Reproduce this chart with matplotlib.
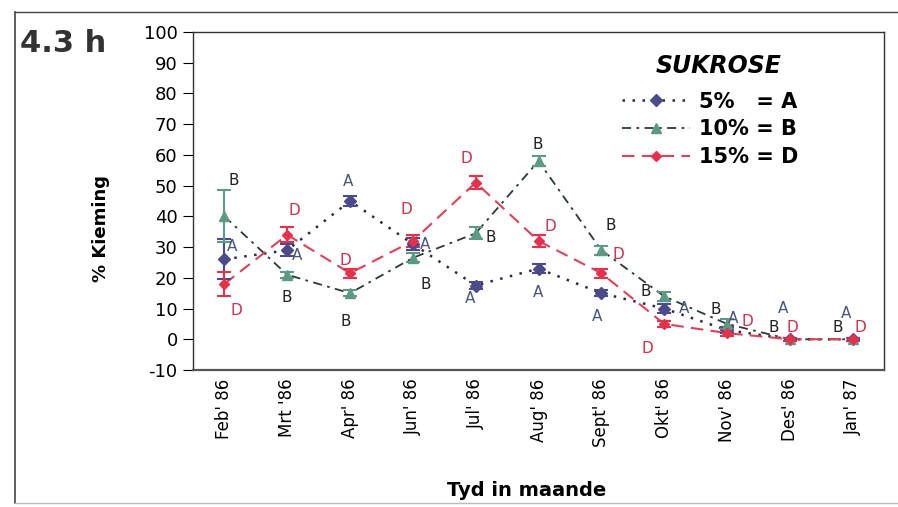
import matplotlib
matplotlib.use("Agg")
import matplotlib.pyplot as plt
from matplotlib.lines import Line2D

plt.rcParams['font.family'] = ['DejaVu Sans']
plt.rcParams['axes.unicode_minus'] = False

months = ["Feb' 86", "Mrt '86", "Apr' 86", "Jun' 86", "Jul' 86", "Aug' 86",
          "Sept' 86", "Okt' 86", "Nov' 86", "Des' 86", "Jan' 87"]

a_vals = [26, 29, 45, 31, 17.5, 23, 15, 10, 3, 0, 0]
a_err = [6.5, 2, 1.5, 2, 1, 1.5, 1, 1.5, 1, 0.5, 0.5]
b_vals = [40, 21, 15, 26.5, 34.5, 58, 29, 14, 5, 0, 0]
b_err = [8.5, 1, 1, 1.5, 2, 1.5, 1.5, 1.5, 1.5, 0.5, 0.5]
d_vals = [18, 34, 21.5, 32, 51, 32, 21.5, 5, 2, 0, 0]
d_err = [4, 2.5, 1.5, 2, 2, 2, 1.5, 1, 1, 0.5, 0.5]

series_names = ["5%   = A", "10% = B", "15% = D"]
series_letters = ["A", "B", "D"]

# label offsets in pixels (style)
a_off = [(8, 13), (10, -5), (-2, 20), (12, 0), (-6, -13), (0, -24), (-4, -23),
         (20, 0), (6, 12), (-7, 31), (-7, 26)]
b_off = [(9, 36), (0, -23), (-4, -28), (13, -27), (15, -4), (-1, 17), (9, 25),
         (-18, 5), (-11, 14), (-16, 12), (-15, 12)]
d_off = [(12, -27), (7, 24), (-5, 13), (-6, 31), (-9, 24), (12, 14), (17, 19),
         (-17, -25), (20, 12), (3, 12), (8, 12)]

fig = plt.figure(figsize=(8.98, 5.07), dpi=100)
ax = fig.add_axes([193/898, 1-370/507, (884-193)/898, (370-32)/507])

x = list(range(len(months)))

styles = [
    dict(vals=a_vals, err=a_err, marker='D', ms=6, mcol='#4b4b8c', lcol='#2b2b45',
         ls=(0, (1, 3)), lw=1.8, tcol='#4a5878', off=a_off, letter='A'),
    dict(vals=b_vals, err=b_err, marker='^', ms=7, mcol='#5c9a86', lcol='#2a3a36',
         ls=(0, (5, 3, 1.5, 3)), lw=1.3, tcol='#222222', off=b_off, letter='B'),
    dict(vals=d_vals, err=d_err, marker='D', ms=5, mcol='#e8304a', lcol='#e0405a',
         ls=(0, (6, 3.5)), lw=1.5, tcol='#d0304a', off=d_off, letter='D'),
]

handles = []
for s, name in zip(styles, series_names):
    ax.plot(x, s['vals'], color=s['lcol'], ls=s['ls'], lw=s['lw'], zorder=2)
    ax.errorbar(x, s['vals'], yerr=s['err'], fmt=s['marker'], ms=s['ms'],
                color=s['mcol'], ecolor=s['mcol'], elinewidth=1.5, capsize=5,
                capthick=1.5, zorder=3)
    for xi, yi, off in zip(x, s['vals'], s['off']):
        ax.annotate(s['letter'], (xi, yi), xytext=off, textcoords='offset pixels',
                    ha='center', va='center', fontsize=11, color=s['tcol'], zorder=4)
    handles.append(Line2D([0], [0], color=s['lcol'], ls=s['ls'], lw=s['lw'],
                          marker=s['marker'], ms=s['ms'], mfc=s['mcol'], mec=s['mcol']))

ax.set_xlim(-0.5, len(months) - 0.5)
ax.set_ylim(-10, 100)
ax.set_yticks(range(-10, 101, 10))
ax.tick_params(axis='y', direction='out', length=7, labelsize=13, pad=4)
ax.set_xticks(x)
ax.set_xticklabels(months, rotation=90, fontsize=12)
ax.tick_params(axis='x', length=0, pad=6)
for sp in ax.spines.values():
    sp.set_color('#333333')
    sp.set_linewidth(1.0)
ax.spines['bottom'].set_linewidth(1.6)
ax.spines['bottom'].set_color('#555555')

leg = ax.legend(handles, series_names, loc='upper left',
                bbox_to_anchor=(609/898, 1-79/507), bbox_transform=fig.transFigure,
                frameon=False, prop=dict(weight='bold', size=15),
                handlelength=3.3, handletextpad=0.4,
                labelspacing=0.38, borderpad=0.1)

fig.text(719/898, 1-66/507, 'SUKROSE', ha='center', va='center', fontsize=17,
         fontweight='bold', fontstyle='italic')
fig.text(527/898, 1-491/507, 'Tyd in maande', ha='center', va='center',
         fontsize=14, fontweight='bold')
fig.text(101/898, 1-229/507, '% Kieming', ha='center', va='center',
         rotation=90, fontsize=13, fontweight='bold')
fig.text(20/898, 1-43/507, '4.3 h', ha='left', va='center', fontsize=22,
         fontweight='bold', color='#333333')

# outer frame
fig.add_artist(Line2D([15/898, 15/898], [1-12/507, 1-503/507], color='#444444', lw=1.2))
fig.add_artist(Line2D([15/898, 1.0], [1-12/507, 1-12/507], color='#444444', lw=1.0))
fig.add_artist(Line2D([15/898, 1.0], [1-503/507, 1-503/507], color='#bbbbbb', lw=1.0))

fig.savefig('out.png', dpi=100)
